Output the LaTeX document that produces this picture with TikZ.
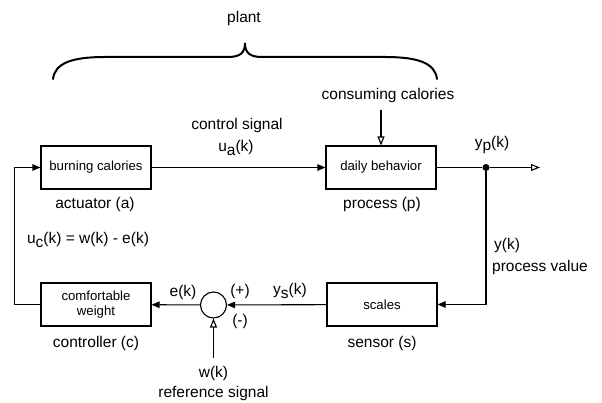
\documentclass[tikz,border=0pt]{standalone}
\usepackage{fontspec}
\setmainfont{Liberation Sans}
\usetikzlibrary{arrows.meta}
\begin{document}
\begin{tikzpicture}[x=1pt,y=-1pt,
  blk/.style={draw,line width=1.1pt,minimum width=110pt,minimum height=43pt,inner sep=1pt,font=\fontsize{13.2}{15}\selectfont,align=center},
  lbl/.style={font=\fontsize{15.5}{17}\selectfont,inner sep=0pt},
  wire/.style={line width=1.1pt},
  fa/.style={wire,-{Triangle[length=8pt,width=6.5pt]}},
  oa/.style={wire,-{Triangle[open,length=9pt,width=7pt]}},
  dot/.style={circle,fill,inner sep=0pt,minimum size=7pt}]
\useasboundingbox (0,0) rectangle (602,403);

% blocks of the loop
\node[blk] (act)  at (96,167.5)  {burning calories};
\node[blk] (proc) at (381,167.5) {daily behavior};
\node[blk] (sens) at (382,304.5) {scales};
\node[blk] (ctrl) at (96,304.5)  {comfortable\\weight};
\node[circle,draw,line width=1.1pt,minimum size=26pt,inner sep=0pt] (sum) at (213.5,305) {};
\node[dot] (tap) at (486,167.5) {};
\coordinate (out) at (540,167.5);
\coordinate (cin) at (381,110);
\coordinate (win) at (213.5,358);

% signal paths
\draw[fa] (act) -- (proc);
\draw[wire] (proc) -- (tap);
\draw[oa] (tap) -- (out);
\draw[fa] (tap) |- (sens);
\draw[fa] (sens) -- (sum);
\draw[fa] (sum) -- (ctrl);
\draw[fa] (ctrl.west) -- ++(-26,0) |- (act.west);
\draw[oa] (win) -- (sum);
\draw[oa] (cin) -- (proc);

% brace over the plant
\draw[line width=2pt,line cap=round] (53,79) .. controls (55,63) and (72,57) .. (105,57)
  -- (228,57) .. controls (240,57) and (245,53) .. (245,43)
  .. controls (245,53) and (250,57) .. (262,57) -- (385,57)
  .. controls (418,57) and (435,63) .. (437,79);

% labels
\node[lbl] (plant) at (244,18) {plant};
\node[lbl] (lact) at (95,204) {actuator (a)};
\node[lbl] (lproc) at (382,204) {process (p)};
\node[lbl] (lsens) at (382,343) {sensor (s)};
\node[lbl] (lctrl) at (96,343) {controller (c)};
\node[lbl] (lcons) at (388,95) {consuming calories};
\node[lbl] (lcs) at (237,125) {control signal};
\node[lbl] (lua) at (236,148) {u\raisebox{-0.45ex}{a}(k)};
\node[lbl] (lyp) at (492,145) {y\raisebox{-0.45ex}{p}(k)};
\node[lbl] (lyk) at (507,245) {y(k)};
\node[lbl] (lpv) at (540,267) {process value};
\node[lbl] (luc) at (88,240) {u\raisebox{-0.45ex}{c}(k) = w(k) - e(k)};
\node[lbl] (lys) at (290,291) {y\raisebox{-0.45ex}{s}(k)};
\node[lbl] (lplus) at (240,291) {(+)};
\node[lbl] (lminus) at (240,321) {(-)};
\node[lbl] (lek) at (183,292) {e(k)};
\node[lbl] (lwk) at (213.5,373) {w(k)};
\node[lbl] (lref) at (213.5,393) {reference signal};
\end{tikzpicture}
\end{document}
